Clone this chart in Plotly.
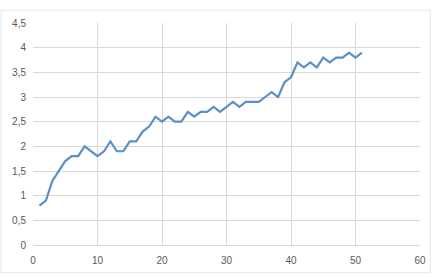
import plotly.graph_objects as go

x_vals = list(range(1, 52))
y_vals = [0.8, 0.9, 1.3, 1.5, 1.7, 1.8, 1.8, 2.0, 1.9, 1.8,
          1.9, 2.1, 1.9, 1.9, 2.1, 2.1, 2.3, 2.4, 2.6, 2.5,
          2.6, 2.5, 2.5, 2.7, 2.6, 2.7, 2.7, 2.8, 2.7, 2.8,
          2.9, 2.8, 2.9, 2.9, 2.9, 3.0, 3.1, 3.0, 3.3, 3.4,
          3.7, 3.6, 3.7, 3.6, 3.8, 3.7, 3.8, 3.8, 3.9, 3.8,
          3.9]
x_ticks = [0, 10, 20, 30, 40, 50, 60]
y_ticks = [0, 0.5, 1, 1.5, 2, 2.5, 3, 3.5, 4, 4.5]

fig = go.Figure()
fig.add_trace(go.Scatter(x=x_vals, y=y_vals, mode="lines",
                         line=dict(color="#5B8FC6", width=2.2),
                         showlegend=False))

W, H = 437, 277
ml, mr, mt, mb = 33, 11, 23, 30
pw, ph = W - ml - mr, H - mt - mb

fig.update_layout(
    width=W, height=H,
    margin=dict(l=ml, r=mr, t=mt, b=mb),
    paper_bgcolor="white", plot_bgcolor="white",
    separators=", ",
    font=dict(family="Liberation Sans, Arial, sans-serif", size=10, color="#595959"),
    xaxis=dict(range=[0, 60], tickvals=x_ticks, showgrid=True, gridcolor="#D9D9D9",
               gridwidth=1, zeroline=False, showline=True, linecolor="#D9D9D9",
               ticks="", ticklabelstandoff=6),
    yaxis=dict(range=[0, 4.5], tickvals=y_ticks, showgrid=True, gridcolor="#D9D9D9",
               gridwidth=1, zeroline=False, showline=False, ticks="",
               ticklabelstandoff=6),
    shapes=[dict(type="rect", xref="paper", yref="paper",
                 x0=(0.5 - ml) / pw, x1=(W - 0.5 - ml) / pw,
                 y0=(mb - H + 1.5) / ph + 0 if False else -(mb - 2) / ph,
                 y1=1 + (mt - 10) / ph,
                 line=dict(color="#E6E6E6", width=1))],
)

fig.write_html("out.html")
